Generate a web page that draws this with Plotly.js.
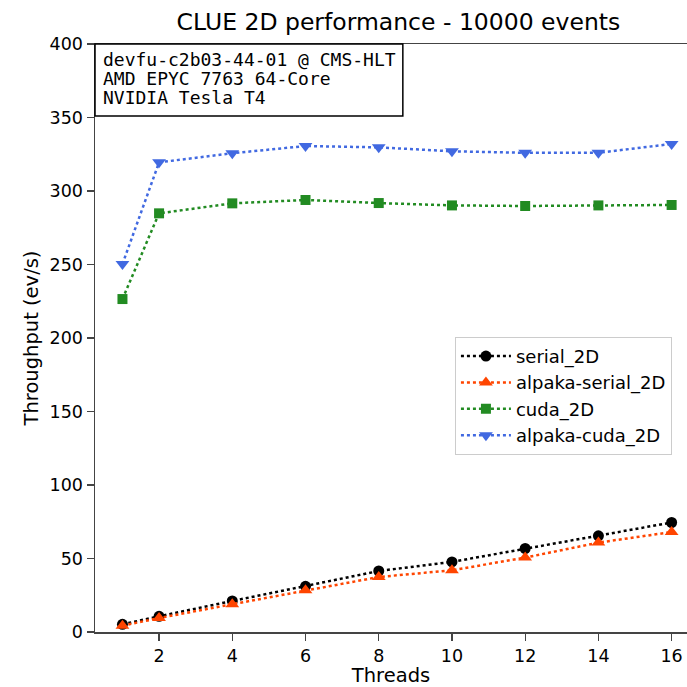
<!DOCTYPE html>
<html>
<head>
<meta charset="utf-8">
<script src="https://cdn.plot.ly/plotly-3.0.1.min.js"></script>
<style>html,body{margin:0;padding:0;background:#fff;}#chart{width:687px;height:687px;}</style>
</head>
<body>
<div id="chart"></div>
<script>
const threads = [1, 2, 4, 6, 8, 10, 12, 14, 16];
const serial2D = [5.2, 10.7, 21.1, 31.1, 41.5, 47.7, 56.8, 65.4, 74.5];
const alpakaSerial2D = [4.3, 9.5, 18.9, 28.4, 37.4, 42.0, 50.6, 60.8, 68.0];
const cuda2D = [226.5, 284.8, 291.6, 293.9, 291.8, 290.2, 289.8, 290.2, 290.5];
const alpakaCuda2D = [250.3, 319.5, 325.7, 330.6, 329.7, 327.0, 326.0, 326.0, 332.0];
const xTicks = [2, 4, 6, 8, 10, 12, 14, 16];
const yTicks = [0, 50, 100, 150, 200, 250, 300, 350, 400];
const infoLines = ["devfu-c2b03-44-01 @ CMS-HLT", "AMD EPYC 7763 64-Core", "NVIDIA Tesla T4"];

const FONT = "DejaVu Sans, sans-serif";
function tr(name, y, color, symbol, size) {
  return {
    x: threads, y: y, name: name, type: 'scatter', mode: 'lines+markers',
    line: {color: color, width: 2.5, dash: 'dot'},
    marker: {color: color, symbol: symbol, size: size}
  };
}
const data = [
  tr('serial_2D', serial2D, '#000000', 'circle', 11),
  tr('alpaka-serial_2D', alpakaSerial2D, '#ff4500', 'triangle-up', 12),
  tr('cuda_2D', cuda2D, '#228b22', 'square', 10),
  tr('alpaka-cuda_2D', alpakaCuda2D, '#4169e1', 'triangle-down', 12)
];

const lineY = [0.9728, 0.9405, 0.9082];
const annotations = infoLines.map((t, i) => ({
  text: t, xref: 'paper', yref: 'paper', x: 0.0105, y: lineY[i],
  xanchor: 'left', yanchor: 'middle', showarrow: false,
  font: {family: "DejaVu Sans Mono, monospace", size: 18, color: '#000'}
}));

const layout = {
  width: 687, height: 687,
  margin: {l: 95, r: 0, t: 44, b: 55},
  paper_bgcolor: '#fff', plot_bgcolor: '#fff',
  font: {family: FONT, size: 17.5, color: '#000'},
  title: {text: 'CLUE 2D performance - 10000 events', font: {family: FONT, size: 23.5, color: '#000'},
          x: 0.58, xanchor: 'center', y: 0.968, yanchor: 'middle'},
  xaxis: {
    range: [0.25, 16.42], tickvals: xTicks, ticktext: xTicks.map(String),
    showgrid: false, zeroline: false, showline: true, linecolor: '#444', linewidth: 1.5,
    mirror: true, ticks: 'outside', ticklen: 7, tickwidth: 1.3, tickcolor: '#444',
    tickfont: {family: FONT, size: 17.5, color: '#000'},
    title: {text: 'Threads', font: {family: FONT, size: 19.5, color: '#000'}, standoff: 5}
  },
  yaxis: {
    range: [0, 400], tickvals: yTicks, ticktext: yTicks.map(String),
    showgrid: false, zeroline: false, showline: true, linecolor: '#444', linewidth: 1.5,
    ticks: 'outside', ticklen: 7, tickwidth: 1.3, tickcolor: '#444',
    tickfont: {family: FONT, size: 17.5, color: '#000'},
    title: {text: 'Throughput (ev/s)', font: {family: FONT, size: 19.5, color: '#000'}, standoff: 6}
  },
  legend: {
    x: 0.608, y: 0.502, xanchor: 'left', yanchor: 'top',
    bgcolor: 'rgba(255,255,255,0.8)', bordercolor: '#cccccc', borderwidth: 1,
    font: {family: FONT, size: 18, color: '#000'}, tracegroupgap: 0,
    itemwidth: 50
  },
  shapes: [{
    type: 'rect', xref: 'paper', yref: 'paper', x0: 0, x1: 0.520, y0: 0.8776, y1: 1,
    line: {color: '#000', width: 1.5}, fillcolor: '#fff', layer: 'above'
  }],
  annotations: annotations,
  showlegend: true
};

Plotly.newPlot('chart', data, layout, {displayModeBar: false, staticPlot: true});
</script>
</body>
</html>
